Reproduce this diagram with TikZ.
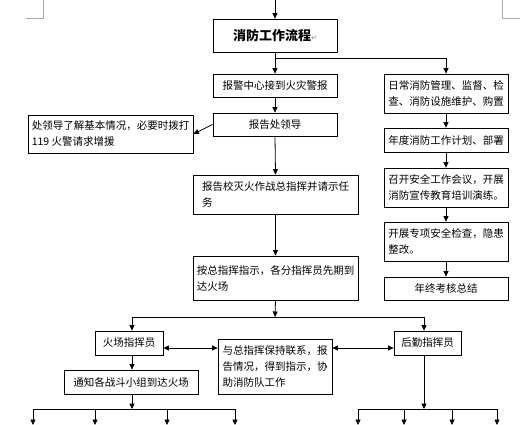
\documentclass[tikz,border=0pt]{standalone}
\usepackage{fontspec}
\setmainfont{Noto Sans CJK SC}
\newfontfamily\symfont{DejaVu Sans}
\usetikzlibrary{positioning,calc}
\usetikzlibrary{arrows.meta}
\definecolor{MarkGray}{RGB}{170,170,170}
\tikzset{
  box/.style={draw=black,line width=0.8pt,inner sep=3pt,align=left,
    font=\fontsize{10.5}{16}\selectfont},
  link/.style={draw=black,line width=0.8pt},
  arr/.style={link,-{Triangle[length=5.5pt,width=5pt]}},
  dbl/.style={link,{Triangle[length=5.5pt,width=5pt]}-{Triangle[length=5.5pt,width=5pt]}},
  cornermark/.style={draw=MarkGray,line width=0.6pt},
}

\begin{document}
\begin{tikzpicture}[x=1pt,y=-1pt]
\useasboundingbox (0,0) rectangle (532,425);
% page corner marks
\draw[cornermark] (26,18) -- (43,18) -- (43,0);
\draw[cornermark] (502,0) -- (502,18) -- (520,18);
% middle column
\node[box,minimum width=124pt,minimum height=33pt,font=\fontsize{13}{16}\selectfont\bfseries] (title) at (275,35.5) {消防工作流程{\symfont\mdseries\fontsize{7}{8}\selectfont\color{gray}↵}};
\node[box,minimum width=124pt,minimum height=23pt] (alarm) at (275,85.5) {报警中心接到火灾警报};
\node[box,minimum width=124pt,minimum height=23pt] (chief) at (275,124.5) {报告处领导};
\node[box,minimum width=165pt,minimum height=38pt] (call) at (110.5,134) {处领导了解基本情况，必要时拨打\\119 火警请求增援};
\node[box,minimum width=165pt,minimum height=39pt] (cmd) at (275.5,194.5) {报告校灭火作战总指挥并请示任\\务};
\node[box,minimum width=165pt,minimum height=44pt] (arrive) at (275.5,278) {按总指挥指示，各分指挥员先期到\\达火场};
% right column
\node[box,minimum width=124pt,minimum height=39pt] (daily) at (446,93.5) {日常消防管理、监督、检\\查、消防设施维护、购置};
\node[box,minimum width=124pt,minimum height=24pt] (plan) at (446,140) {年度消防工作计划、部署};
\node[box,minimum width=124pt,minimum height=39pt] (meet) at (446,187.5) {召开安全工作会议，开展\\消防宣传教育培训演练。};
\node[box,minimum width=124pt,minimum height=39pt] (check) at (446,241.5) {开展专项安全检查，隐患\\整改。};
\node[box,minimum width=124pt,minimum height=23pt] (sum) at (446,288.5) {年终考核总结};
% lower part
\node[box,minimum width=68pt,minimum height=24pt] (field) at (129,343) {火场指挥员};
\node[box,minimum width=67pt,minimum height=24pt] (logi) at (427.5,343) {后勤指挥员};
\node[box,minimum width=114pt,minimum height=55pt] (liaise) at (275,366.5) {与总指挥保持联系，报\\告情况，得到指示，协\\助消防队工作};
\node[box,minimum width=134pt,minimum height=24pt] (notify) at (131,382) {通知各战斗小组到达火场};
% free ends
\coordinate (top) at (275,0);
\coordinate (split) at (275,58);
\coordinate (fork) at (275,317);
\coordinate (forkL) at (132,317);
\coordinate (forkR) at (424,317);
\coordinate (teamL) at (132,409);
\coordinate (teamR) at (424,409);
% connectors
\draw[arr] (top) -- (title.north);
\draw[arr] (title.south) -- (alarm.north);
\draw[arr] (split) -| (daily.north);
\draw[arr] (alarm.south) -- (chief.north);
\draw[arr] (chief.west) -- (call.east);
\draw[arr] (chief.south) -- (cmd.north);
\draw[arr] (cmd.south) -- (arrive.north);
\draw[arr] (daily.south) -- (plan.north);
\draw[arr] (plan.south) -- (meet.north);
\draw[arr] (meet.south) -- (check.north);
\draw[arr] (check.south) -- (sum.north);
\draw[arr] (arrive.south) -- (fork);
\draw[link] (forkL) -- (forkR);
\draw[arr] (forkL) -- (forkL |- field.north);
\draw[arr] (forkR) -- (forkR |- logi.north);
\draw[dbl] (field.east |- 0,348) -- (liaise.west |- 0,348);
\draw[dbl] (liaise.east |- 0,348) -- (logi.west |- 0,348);
\draw[arr] (forkL |- field.south) -- (forkL |- notify.north);
\draw[arr] (forkL |- notify.south) -- (teamL);
\draw[arr] (forkR |- logi.south) -- (teamR);
\draw[link] (33,409) -- (235,409);
\draw[link] (358,409) -- (497,409);
\foreach \i/\x in {1/33,2/95,3/167,4/235} {
  \coordinate (l\i) at (\x,425);
  \draw[arr] (\x,409) -- (l\i);
}
\foreach \i/\x in {1/358,2/404,3/452,4/497} {
  \coordinate (r\i) at (\x,425);
  \draw[arr] (\x,409) -- (r\i);
}
\end{tikzpicture}
\end{document}
